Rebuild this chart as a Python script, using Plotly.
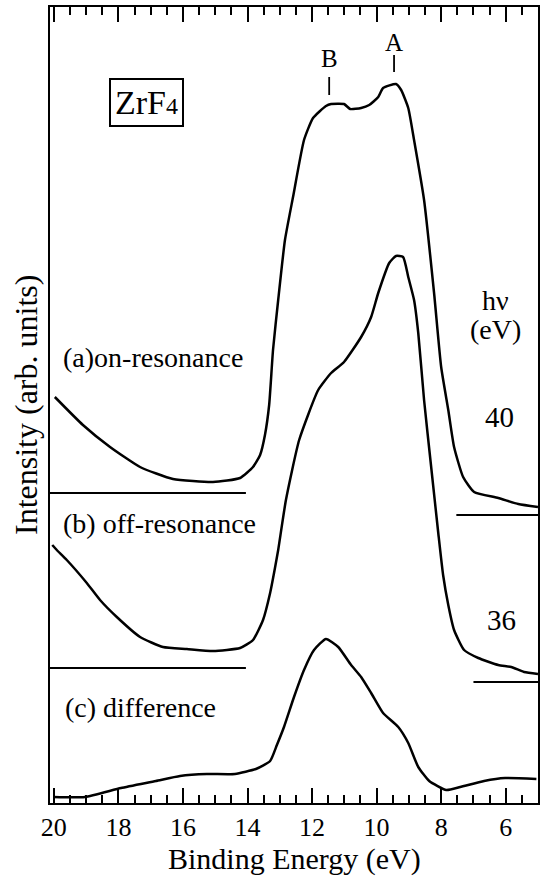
import plotly.graph_objects as go

FONT = "Liberation Serif"

# Binding energy (eV) and intensity (arb. units)
energy_a = [19.97, 19.10, 18.26, 17.33, 16.31, 15.07, 14.23, 13.83, 13.61, 13.46, 13.33, 13.21,
            13.05, 12.84, 12.59, 12.25, 11.97, 11.57, 11.41, 11.01, 10.82, 10.48, 10.23, 9.95,
            9.80, 9.40, 9.24, 9.02, 8.84, 8.53, 8.22, 8.00, 7.78, 7.60, 7.32, 6.98,
            6.23, 5.61, 5.00]
intensity_a = [406, 378, 356, 336, 324, 321, 325, 336, 348, 368, 398, 453,
               503, 563, 606, 663, 685, 697, 699, 699, 694, 695, 698, 706,
               715, 719, 713, 695, 663, 603, 510, 436, 393, 356, 326, 311,
               305, 299, 296]

energy_b = [20.05, 19.91, 19.60, 18.98, 18.57, 18.05, 17.33, 16.62, 15.88, 15.07, 14.23, 13.83,
            13.52, 13.30, 13.15, 13.05, 12.81, 12.40, 11.81, 11.41, 11.01, 10.48, 10.17, 9.95,
            9.61, 9.40, 9.18, 9.02, 8.84, 8.71, 8.53, 8.31, 8.09, 7.94, 7.78, 7.60,
            7.29, 6.85, 6.23, 5.83, 5.43, 5.00]
intensity_b = [258, 253, 243, 220, 203, 186, 166, 156, 154, 152, 155, 163,
               183, 210, 235, 253, 303, 363, 413, 430, 441, 466, 486, 510,
               540, 547, 546, 526, 503, 470, 403, 336, 270, 228, 198, 173,
               153, 145, 138, 136, 131, 129]

energy_c = [20.00, 19.04, 17.92, 16.84, 16.09, 15.26, 14.39, 13.74, 13.30, 13.09, 12.87, 12.56,
            12.25, 11.94, 11.57, 11.19, 10.79, 10.48, 10.17, 9.80, 9.33, 9.02, 8.71, 8.37,
            7.84, 7.41, 6.67, 6.02, 5.05]
intensity_c = [6, 6, 15, 22, 27, 29, 29, 34, 42, 58, 76, 106,
               133, 153, 164, 156, 138, 126, 110, 90, 76, 60, 36, 22,
               13, 16, 22, 25, 24]

# zero lines of spectra (a) and (b)
base_a_left_x = [20.12, 14.05]
base_a_left_y = [310, 310]
base_a_right_x = [7.53, 5.0]
base_a_right_y = [288, 288]
base_b_left_x = [20.12, 14.05]
base_b_left_y = [135, 135]
base_b_right_x = [7.0, 4.95]
base_b_right_y = [121, 121]

# peak markers
peak_names = ["A", "B"]
peak_energy = [9.46, 11.47]
peak_mark_y0 = [731, 708]
peak_mark_y1 = [748, 726]
peak_label_y = [761, 745]

major_ticks = [20, 18, 16, 14, 12, 10, 8, 6]
minor_ticks = [x / 2 for x in range(10, 41)]

fig = go.Figure()
for xs, ys in [(energy_a, intensity_a), (energy_b, intensity_b), (energy_c, intensity_c)]:
    fig.add_trace(go.Scatter(x=xs, y=ys, mode="lines",
                             line=dict(color="black", width=2.5, shape="spline", smoothing=0.5),
                             showlegend=False, hoverinfo="skip"))
for xs, ys in [(base_a_left_x, base_a_left_y), (base_a_right_x, base_a_right_y),
               (base_b_left_x, base_b_left_y), (base_b_right_x, base_b_right_y)]:
    fig.add_trace(go.Scatter(x=xs, y=ys, mode="lines", line=dict(color="black", width=1.8),
                             showlegend=False, hoverinfo="skip"))
for e, y0, y1 in zip(peak_energy, peak_mark_y0, peak_mark_y1):
    fig.add_trace(go.Scatter(x=[e, e], y=[y0, y1], mode="lines", line=dict(color="black", width=1.8),
                             showlegend=False, hoverinfo="skip"))

ann = []
for n, e, y in zip(peak_names, peak_energy, peak_label_y):
    ann.append(dict(x=e, y=y, text=n, showarrow=False, font=dict(size=25, family=FONT, color="black"),
                    xanchor="center", yanchor="middle"))

def label(x, y, text, size=28, xanchor="left"):
    ann.append(dict(x=x, y=y, text=text, showarrow=False, xanchor=xanchor, yanchor="middle",
                    font=dict(size=size, family=FONT, color="black")))

label(19.78, 446, "(a)on-resonance")
label(19.78, 280, "(b) off-resonance")
label(19.72, 96, "(c) difference")
label(6.33, 503, "hν", xanchor="center")
label(6.33, 474, "(eV)", xanchor="center")
label(6.2, 386, "40", size=29, xanchor="center")
label(6.14, 183, "36", size=29, xanchor="center")
ann.append(dict(x=17.12, y=701, text="ZrF<span style='font-size:24px'>4</span>", showarrow=False,
                xanchor="center", yanchor="middle", font=dict(size=34, family=FONT, color="black"),
                bordercolor="black", borderwidth=2, borderpad=4, bgcolor="white"))
# axis titles
ann.append(dict(x=0.5, xref="paper", y=-56 / 796, yref="paper", text="Binding Energy (eV)", showarrow=False,
                xanchor="center", yanchor="middle", font=dict(size=30, family=FONT, color="black")))
ann.append(dict(x=-24 / 488, xref="paper", y=0.5, yref="paper", text="Intensity (arb. units)", showarrow=False,
                textangle=-90, xanchor="center", yanchor="middle", font=dict(size=32, family=FONT, color="black")))

fig.update_layout(
    width=542, height=876,
    margin=dict(l=50, r=4, t=7, b=73),
    plot_bgcolor="white", paper_bgcolor="white",
    annotations=ann,
    xaxis=dict(range=[20.12, 5.0], tickmode="array", tickvals=major_ticks,
               ticktext=[str(t) for t in major_ticks],
               ticks="inside", ticklen=15, tickwidth=2, tickcolor="black",
               minor=dict(tickmode="array", tickvals=minor_ticks, ticks="inside", ticklen=8,
                          tickwidth=1.5, tickcolor="black"),
               showline=True, linecolor="black", linewidth=2, mirror="ticks",
               showgrid=False, zeroline=False, automargin=False,
               tickfont=dict(size=26, family=FONT, color="black")),
    yaxis=dict(range=[0, 796], showticklabels=False, ticks="", showgrid=False, zeroline=False,
               showline=True, linecolor="black", linewidth=2, mirror=True, automargin=False),
)

fig.write_html("out.html", config={"displayModeBar": False},
               post_script="document.body.style.margin='0px';document.body.style.overflow='hidden';")
